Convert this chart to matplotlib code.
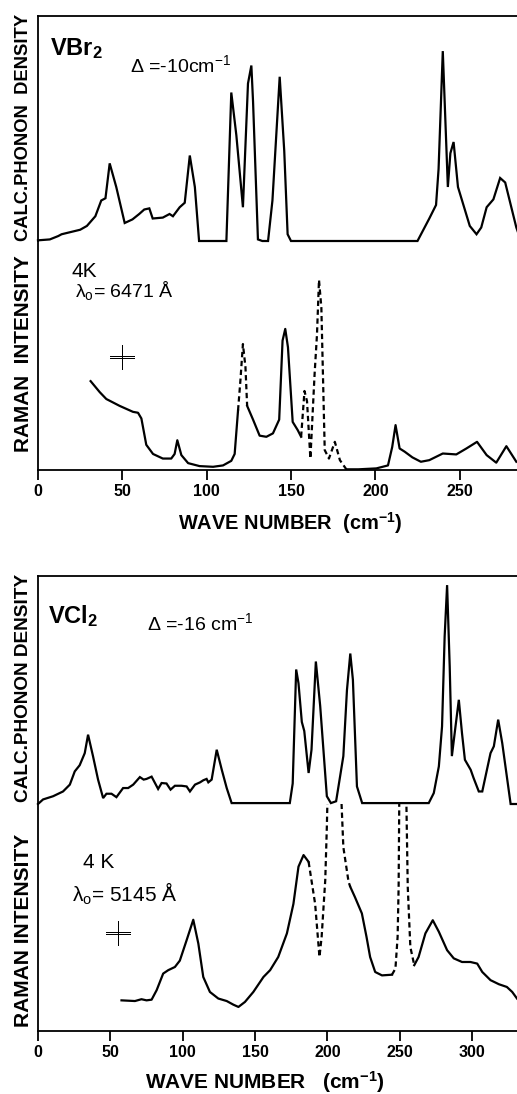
import numpy as np
import matplotlib
matplotlib.use("Agg")
import matplotlib.pyplot as plt
from matplotlib import font_manager

# ---------------- data ----------------
# VBr2 calculated phonon density (arbitrary units, 0..100 = axis height)
vbr2_ph_x = [0, 7, 12, 14, 25, 29, 34, 37.5, 40, 42.5, 46.4, 51.4, 56, 60, 63, 66, 68, 74,
             78, 80, 84, 87, 90, 93, 95.5, 111.7, 114.6, 117.6, 121.5, 124.5, 126.5, 127.5,
             130.4, 133, 136.4, 139, 143.3, 146, 148, 150, 225, 232, 236, 237.5, 240, 243,
             244.5, 246.4, 249, 256, 260, 262.8, 266, 270, 274, 277, 283.6, 285]
vbr2_ph_y = [0.3, 0.7, 2.2, 3, 5, 6.7, 11, 18, 19, 34.5, 24, 8, 9.6, 12, 14, 14.5, 10, 10.4,
             12, 11, 15, 17, 38, 24, 0, 0, 66, 47, 15, 70, 78, 62,
             0.7, 0, 0, 18, 73, 40, 3, 0, 0, 10, 16, 32, 84.4, 24,
             39, 44, 24, 6.7, 3, 6, 15, 18.5, 28, 26, 6, 3]

# VBr2 Raman spectrum, 4 K, 6471 A
vbr2_ra_x = [31.2, 36.6, 40.5, 48.4, 56.3, 59.3, 61.3, 64.2, 68.2, 74, 79, 81, 82.6, 85, 89,
             95.8, 103.8, 109.7, 114.6, 116.6, 118.6, 120, 121.5, 123, 124, 127.5, 131.4,
             135.4, 139.3, 143, 145, 146.6, 148.2, 151, 154, 156, 158, 159.5, 161.5, 164,
             165.4, 166.6, 168, 170, 172.5, 176, 179, 182.8, 190, 200.6, 207.5, 210, 212,
             214.4, 217.4, 222, 227, 232, 240, 248, 254, 260.3, 266, 271.7, 277.7, 283.6]
vbr2_ra_y = [38.8, 34, 31, 28, 25.4, 25, 22.5, 11, 7, 5, 5, 7, 13, 6.5, 3,
             1.7, 1.4, 2, 4, 7, 26, 39, 55, 45, 28, 22, 15,
             14.5, 16, 22, 56.5, 61.6, 53.6, 21, 17.4, 14.5, 34.5, 30, 5, 42,
             59, 83, 71, 8.7, 5, 12.3, 4.3, 0.3, 0.3, 0.7, 2, 10, 19.6,
             9.4, 8, 5.5, 3.6, 4.3, 7.2, 6.8, 9.4, 12.3, 6.5, 3.2, 10.4, 3.6]
vbr2_ra_dashed = [(118.6, 124.0), (156.0, 182.8)]

# VCl2 calculated phonon density
vcl2_ph_x = [0, 3.5, 10.4, 17.3, 22, 25.4, 28.8, 32.3, 34.6, 38, 41.5, 45, 47.3, 50.8, 54.2,
             58.8, 62.3, 65.8, 70.4, 73, 75, 78.5, 83, 85.4, 88.8, 91.6, 94.6, 99.2, 102.7,
             105, 108.5, 112, 114.2, 116.5, 117.7, 120, 123.5, 127, 130.4, 133.8, 174, 176,
             178.4, 180, 182.3, 184, 187, 189, 192, 195, 199.6, 202.4, 206, 211, 213.5,
             215.8, 217.6, 220.4, 224, 270, 273.5, 277, 279.2, 281, 282.7, 284.5, 286,
             288.5, 290.8, 293, 295, 299, 301, 304.6, 307, 312.7, 315, 318, 320.8, 326.6, 331]
vcl2_ph_y = [0, 2, 3.4, 5.5, 8.5, 14.3, 17, 22.3, 30.4, 21, 10.7, 2.6, 4.5, 4.5, 3,
             7, 7, 8.5, 11.8, 10.7, 11, 12, 6.6, 9.2, 9, 6.3, 8, 8, 7.7,
             5.5, 8.5, 9.5, 10.4, 11, 9.5, 10.7, 23.8, 15, 7, 0.4, 0.4, 9,
             59, 53, 36, 32, 13.6, 23.8, 62.5, 43, 3.4, 0.4, 1.2, 21, 50,
             66, 54.5, 7.7, 0.4, 0.4, 4.8, 16.5, 34, 73.4, 96, 60.3, 21,
             34, 45.7, 31, 19.4, 15, 11.4, 5.5, 5.5, 22.3, 25.3, 37, 26.7, 0, 0]

# VCl2 Raman spectrum, 4 K, 5145 A (values above 100 run off the top)
vcl2_ra_x = [57.7, 67, 71.5, 75, 78.5, 82, 86.5, 90, 94.6, 98, 102.7, 107.3, 110.8, 114.2,
             118.8, 124.6, 130.4, 135, 138.5, 143, 148.8, 155.8, 160.4, 166, 172, 176.5,
             180, 183.5, 187, 191.5, 194.5, 196, 198.5, 199.6, 200.5, 208.8, 211, 214.6,
             215.8, 219, 223.8, 227, 229.5, 233, 237.7, 244.6, 247, 248.5, 249.2, 249.8,
             254.2, 255.5, 257.3, 260, 263, 267.7, 272.8, 277, 282.7, 287.3, 293, 298.8,
             303.5, 307, 312.7, 318.5, 324, 327.7, 331]
vcl2_ra_y = [13.5, 13.2, 14, 13.5, 13.8, 18, 25.3, 26.8, 28.2, 31, 40, 49, 38.5, 23.8,
             17.2, 14.3, 13.2, 11.6, 10.6, 12.8, 17.2, 23.8, 26.8, 32.6, 43, 56,
             72.4, 77.5, 74.5, 56, 32.6, 41.5, 66.5, 90, 115, 115, 81, 65.7,
             63.5, 59, 51.8, 41.5, 32.6, 26, 24.5, 24.8, 27.5, 41.5, 63.5, 115,
             115, 63.5, 37, 29, 32.6, 43, 48.8, 43.7, 35.6, 32, 30.4, 30.4,
             29.7, 26, 22.4, 20.6, 19.4, 17.2, 14.3]
vcl2_ra_dashed = [(187.0, 200.5), (208.8, 215.8), (244.6, 249.8), (254.2, 260.0)]

vbr2_ticks = [0, 50, 100, 150, 200, 250]
vcl2_ticks = [0, 50, 100, 150, 200, 250, 300]

# ---------------- fonts ----------------
names = {f.name for f in font_manager.fontManager.ttflist}
NARROW = "Liberation Sans Narrow" if "Liberation Sans Narrow" in names else "Liberation Sans"
SANS = "Liberation Sans"
plt.rcParams["font.family"] = [SANS, "DejaVu Sans"]
plt.rcParams["mathtext.default"] = "regular"

W, H = 517, 1094
fig = plt.figure(figsize=(W / 100, H / 100), dpi=100)
fig.patch.set_facecolor("white")


def fpos(l, t, r, b):
    return [l / W, 1 - b / H, (r - l) / W, (b - t) / H]


def fx(px):
    return px / W


def fy(py):
    return 1 - py / H


LW = 1.6
SP = 1.3


def phonon_axes(rect, xmax, x, y):
    ax = fig.add_axes(rect)
    ax.plot(x, y, color="black", lw=LW, clip_on=False, solid_joinstyle="miter")
    ax.set_xlim(0, xmax)
    ax.set_ylim(0, 100)
    for s in ("bottom", "right"):
        ax.spines[s].set_visible(False)
    for s in ("top", "left"):
        ax.spines[s].set_linewidth(SP)
    ax.set_xticks([])
    ax.set_yticks([])
    ax.patch.set_alpha(0)
    return ax


def raman_axes(rect, xmax, x, y, dashed, ticks):
    ax = fig.add_axes(rect)
    x = np.asarray(x, float)
    y = np.asarray(y, float)
    in_dash = np.zeros(len(x), bool)
    inner = np.zeros(len(x), bool)
    for a, b in dashed:
        in_dash |= (x >= a) & (x <= b)
        inner |= (x > a) & (x < b)
    ys = np.where(inner, np.nan, y)
    yd = np.where(in_dash, y, np.nan)
    ax.plot(x, ys, color="black", lw=LW)
    ax.plot(x, yd, color="black", lw=LW, linestyle=(0, (2.4, 1.6)))
    ax.set_xlim(0, xmax)
    ax.set_ylim(0, 100)
    for s in ("top", "right"):
        ax.spines[s].set_visible(False)
    for s in ("bottom", "left"):
        ax.spines[s].set_linewidth(SP)
    ax.set_yticks([])
    ax.set_xticks(ticks)
    ax.set_xticklabels([str(t) for t in ticks], family=[NARROW, "DejaVu Sans"],
                       fontsize=13 if NARROW.endswith("Narrow") else 11.5,
                       fontweight="bold")
    ax.tick_params(axis="x", direction="out", length=7, width=SP, pad=3)
    ax.patch.set_alpha(0)
    return ax


ax1 = phonon_axes(fpos(38, 16, W, 241), 284, vbr2_ph_x, vbr2_ph_y)
ax2 = raman_axes(fpos(38, 241, W, 470), 284, vbr2_ra_x, vbr2_ra_y, vbr2_ra_dashed, vbr2_ticks)
ax3 = phonon_axes(fpos(38, 576, W, 804), 331, vcl2_ph_x, vcl2_ph_y)
ax4 = raman_axes(fpos(38, 804, W, 1031), 331, vcl2_ra_x, vcl2_ra_y, vcl2_ra_dashed, vcl2_ticks)

# ---------------- texts ----------------
fig.text(fx(50), fy(55), "VBr$_2$", fontsize=17, fontweight="bold", ha="left", va="baseline")
fig.text(fx(130), fy(72), "Δ =-10cm$^{-1}$", fontsize=14, ha="left", va="baseline")
fig.text(fx(72), fy(277), "4K", fontsize=15, ha="left", va="baseline")
fig.text(fx(75), fy(297), "λ$_o$= 6471 Å", fontsize=14, ha="left", va="baseline")

fig.text(fx(48), fy(623), "VCl$_2$", fontsize=17, fontweight="bold", ha="left", va="baseline")
fig.text(fx(147), fy(630), "Δ =-16 cm$^{-1}$", fontsize=14, ha="left", va="baseline")
fig.text(fx(83), fy(868), "4 K", fontsize=15, ha="left", va="baseline")
fig.text(fx(72), fy(902), "λ$_o$= 5145 Å", fontsize=15, ha="left", va="baseline")

# polarisation sign (vertical stroke crossed by a double bar)
PFAM = "Noto Sans CJK JP" if "Noto Sans CJK JP" in names else "DejaVu Sans"
for cx, cy in [(122, 360), (119, 935)]:
    fig.text(fx(cx), fy(cy), "╪", fontsize=18, fontweight="bold", ha="center",
             va="center", family=PFAM)

fitted = []
# rotated axis labels: (text, x-centre px, y-centre px, target length px)
for txt, cx, cy, L in [("CALC.PHONON  DENSITY", 24, 127, 227),
                       ("RAMAN  INTENSITY", 24, 354, 198),
                       ("CALC.PHONON DENSITY", 24, 688, 230),
                       ("RAMAN INTENSITY", 24, 930, 194)]:
    t = fig.text(fx(cx), fy(cy), txt, rotation=90, ha="center", va="center",
                 fontsize=16, fontweight="bold", family=[NARROW, "DejaVu Sans"])
    fitted.append((t, L, "h"))

for txt, lx, by, L in [("WAVE NUMBER  (cm$^{-1}$)", 178, 530, 224),
                       ("WAVE NUMBER   (cm$^{-1}$)", 145, 1089, 240)]:
    t = fig.text(fx(lx), fy(by), txt, ha="left", va="baseline",
                 fontsize=16, fontweight="bold", family=[NARROW, "DejaVu Sans"])
    fitted.append((t, L, "w"))

fig.canvas.draw()
r = fig.canvas.get_renderer()
for t, L, d in fitted:
    bb = t.get_window_extent(r)
    cur = bb.height if d == "h" else bb.width
    t.set_fontsize(t.get_fontsize() * L / cur)

fig.savefig("out.png", dpi=100, facecolor="white")
